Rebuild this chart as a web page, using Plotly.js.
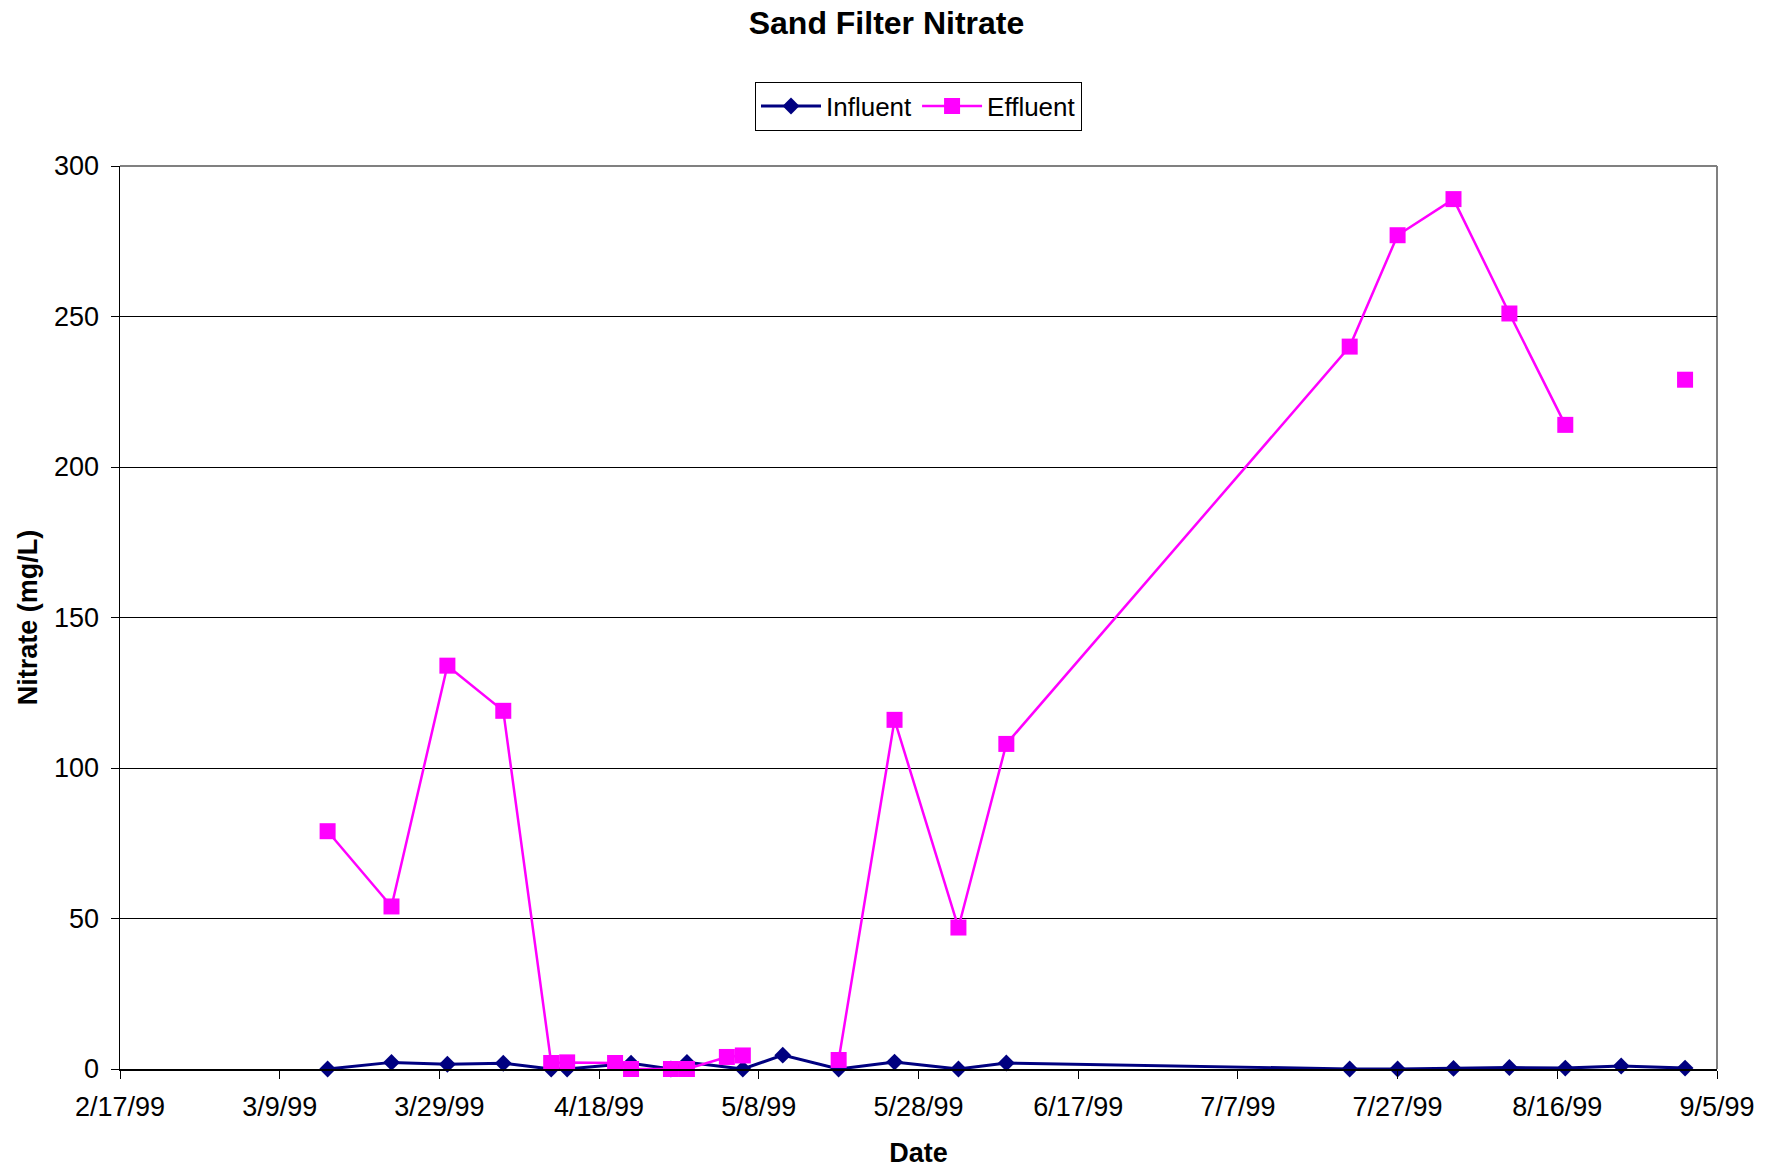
<!DOCTYPE html>
<html>
<head>
<meta charset="utf-8">
<script src="https://cdn.plot.ly/plotly-3.0.1.min.js"></script>
<style>
  html, body { margin: 0; padding: 0; background: #ffffff; }
  #chart { width: 1773px; height: 1168px; }
</style>
</head>
<body>
<div id="chart"></div>
<script>
// ---- Data ----
const influentDates = ['1999-03-15','1999-03-23','1999-03-30','1999-04-06','1999-04-12','1999-04-14',
  '1999-04-22','1999-04-27','1999-04-29','1999-05-06','1999-05-11','1999-05-18','1999-05-25',
  '1999-06-02','1999-06-08','1999-07-21','1999-07-27','1999-08-03','1999-08-10','1999-08-17',
  '1999-08-24','1999-09-01'];
const influentValues = [0, 2.2, 1.6, 1.9, 0, 0, 1.9, 0, 2.2, 0, 4.6, 0, 2.3, 0, 2.0, 0, 0, 0.2, 0.5, 0.3, 1.0, 0.3];

const effluentDates = ['1999-03-15','1999-03-23','1999-03-30','1999-04-06','1999-04-12','1999-04-14',
  '1999-04-20','1999-04-22','1999-04-27','1999-04-29','1999-05-04','1999-05-06','1999-05-11',
  '1999-05-18','1999-05-25','1999-06-02','1999-06-08','1999-07-21','1999-07-27','1999-08-03',
  '1999-08-10','1999-08-17','1999-08-24','1999-09-01'];
const effluentValues = [79, 54, 134, 119, 2, 2.2, 2, 0, 0, 0, 4, 4.5, null, 3, 116, 47, 108, 240, 277, 289, 251, 214, null, 229];

const xTickVals = ['1999-02-17','1999-03-09','1999-03-29','1999-04-18','1999-05-08','1999-05-28',
  '1999-06-17','1999-07-07','1999-07-27','1999-08-16','1999-09-05'];
const xTickText = ['2/17/99','3/9/99','3/29/99','4/18/99','5/8/99','5/28/99','6/17/99','7/7/99','7/27/99','8/16/99','9/5/99'];

const seriesNames = ['Influent', 'Effluent'];
const chartTitle = 'Sand Filter Nitrate';
const xTitle = 'Date';
const yTitle = 'Nitrate (mg/L)';

// ---- Chart ----
const FONT = '"Liberation Sans", Arial, sans-serif';

const traces = [
  {
    x: influentDates, y: influentValues, name: seriesNames[0],
    type: 'scatter', mode: 'lines+markers', connectgaps: false, cliponaxis: false,
    line: { color: '#000080', width: 3 },
    marker: { symbol: 'diamond', size: 13, color: '#000080' }
  },
  {
    x: effluentDates, y: effluentValues, name: seriesNames[1],
    type: 'scatter', mode: 'lines+markers', connectgaps: false, cliponaxis: false,
    line: { color: '#FF00FF', width: 2.5 },
    marker: { symbol: 'square', size: 16, color: '#FF00FF' }
  }
];

const layout = {
  width: 1773, height: 1168,
  paper_bgcolor: '#ffffff', plot_bgcolor: '#ffffff',
  font: { family: FONT, size: 27, color: '#000000' },
  margin: { l: 120, r: 56, t: 166, b: 99, pad: 0 },
  title: {
    text: '<b>' + chartTitle + '</b>',
    font: { family: FONT, size: 32, color: '#000000' },
    xref: 'container', x: 0.5, xanchor: 'center',
    yref: 'container', y: 1 - 23 / 1168, yanchor: 'middle'
  },
  showlegend: true,
  legend: {
    orientation: 'h', xref: 'paper', yref: 'paper',
    x: 0.5, xanchor: 'center', y: 1.0935, yanchor: 'top',
    bgcolor: '#ffffff', bordercolor: '#000000', borderwidth: 1,
    font: { family: FONT, size: 26, color: '#000000' },
    itemwidth: 60, tracegroupgap: 0
  },
  xaxis: {
    type: 'date',
    range: ['1999-02-17', '1999-09-05'],
    tickmode: 'array', tickvals: xTickVals, ticktext: xTickText,
    ticks: 'outside', ticklen: 8, tickwidth: 1, tickcolor: '#000000',
    showline: true, linecolor: '#000000', linewidth: 1.5,
    showgrid: false, zeroline: false,
    tickfont: { family: FONT, size: 27, color: '#000000' },
    ticklabelstandoff: 5,
    title: { text: '<b>' + xTitle + '</b>', font: { family: FONT, size: 27, color: '#000000' }, standoff: 26 },
    fixedrange: true
  },
  yaxis: {
    range: [0, 300], dtick: 50, tick0: 0,
    ticks: 'outside', ticklen: 8, tickwidth: 1, tickcolor: '#000000',
    showline: true, linecolor: '#000000', linewidth: 1.5,
    showgrid: true, gridcolor: '#000000', gridwidth: 1,
    zeroline: false,
    tickfont: { family: FONT, size: 27, color: '#000000' },
    ticklabelstandoff: 6,
    title: { text: '<b>' + yTitle + '</b>', font: { family: FONT, size: 27, color: '#000000' }, standoff: 8 },
    fixedrange: true
  },
  shapes: [
    { type: 'line', xref: 'paper', yref: 'paper', x0: 0, x1: 1, y0: 1, y1: 1, line: { color: '#808080', width: 2 }, layer: 'below' },
    { type: 'line', xref: 'paper', yref: 'paper', x0: 1, x1: 1, y0: 0, y1: 1, line: { color: '#808080', width: 2 }, layer: 'below' }
  ]
};

Plotly.newPlot('chart', traces, layout, { displayModeBar: false, staticPlot: true });
</script>
</body>
</html>
